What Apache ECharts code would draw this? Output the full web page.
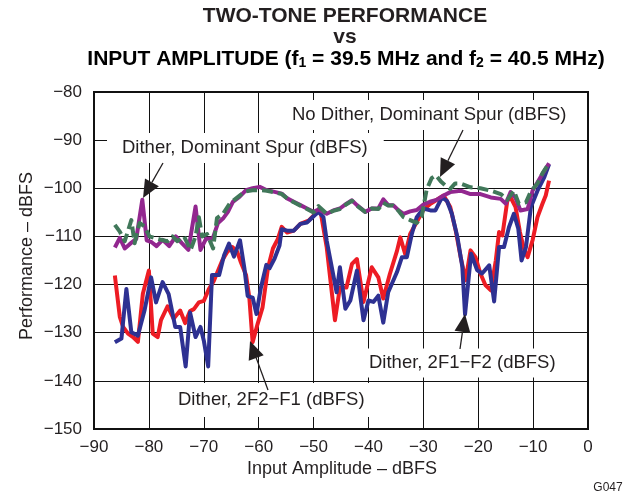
<!DOCTYPE html>
<html>
<head>
<meta charset="utf-8">
<script src="https://cdn.jsdelivr.net/npm/echarts@6/dist/echarts.min.js"></script>
<style>
html,body{margin:0;padding:0;background:#fff;}
#chart{width:629px;height:497px;}
</style>
</head>
<body>
<div id="chart"></div>
<script>
// ---- data (x = input amplitude dBFS, y = performance dBFS) ----
const xTickValues = [-90, -80, -70, -60, -50, -40, -30, -20, -10, 0];
const yTickValues = [-150, -140, -130, -120, -110, -100, -90, -80];

const ditherDominantSpur = [
  [-86.2,-112.3],[-85.3,-110.3],[-84.4,-112.5],[-83.5,-111.6],[-82.3,-110.5],[-81.2,-102.4],
  [-80.4,-110.8],[-79.5,-111.2],[-78.6,-112],[-77.5,-110.7],[-76.3,-112],[-75.1,-110],
  [-74.0,-111.4],[-72.8,-112.8],[-71.5,-103.8],[-70.6,-112.8],[-69.6,-110.5],[-68.4,-110.5],
  [-67.4,-107.2],[-66.5,-106.3],[-65.6,-104.9],[-64.7,-102.8],[-63.5,-101.8],[-62.3,-100.4],
  [-61.1,-100],[-59.8,-99.7],[-58.5,-100.4],[-57.3,-100.7],[-55.8,-101.1],[-54.8,-102.1],
  [-53.6,-102.8],[-52.4,-103.5],[-51.2,-104.2],[-50.0,-104.9],[-49.1,-104.4],[-47.6,-105.3],
  [-46.4,-104.6],[-45.2,-104.2],[-44.0,-103.2],[-43.0,-102.5],[-42.1,-103.5],[-40.6,-104.9],
  [-39.4,-104.2],[-38.2,-104.2],[-37.3,-102.3],[-36.4,-103.5],[-35.5,-103.5],[-34.5,-104.6],
  [-33.6,-105.3],[-32.4,-104.8],[-31.2,-104.5],[-30.0,-103.4],[-28.8,-102.8],[-27.6,-102.4],
  [-26.3,-101.5],[-25.1,-100.8],[-23.2,-100.5],[-21.4,-101.2],[-19.6,-101.2],[-17.7,-101.9],
  [-15.9,-102.2],[-15.0,-103.2],[-14.1,-100.8],[-13.2,-102],[-12.3,-104.6],[-11.0,-104.3],
  [-10.1,-100.5],[-8.6,-97.6],[-7.1,-94.8]
];

const noDitherDominantSpur = [
  [-86.2,-107.6],[-85.3,-109],[-84.4,-111],[-83.2,-106.6],[-82.6,-111.4],[-81.7,-107.2],
  [-80.8,-107.9],[-79.9,-110],[-79.0,-110.3],[-77.8,-110.7],[-76.6,-111],[-75.7,-110],
  [-74.8,-111],[-73.6,-110],[-72.4,-112.8],[-71.5,-110],[-70.9,-106],[-70.3,-110],
  [-69.4,-109.5],[-68.3,-112.5],[-67.6,-106.2],[-66.5,-105.3],[-65.3,-103.2],[-64.1,-102.1],
  [-62.6,-100.7],[-61.1,-100.4],[-59.8,-100.4],[-58.5,-100.5],[-57.3,-100.8],[-55.8,-101.2],
  [-54.8,-102.1],[-53.6,-102.9],[-52.4,-103.6],[-51.2,-104.3],[-50.0,-105],[-49.1,-103.7],
  [-47.6,-105.3],[-46.4,-104.7],[-45.2,-104.3],[-44.0,-103.3],[-43.0,-102.6],[-42.1,-103.6],
  [-40.6,-104.9],[-39.4,-104.2],[-38.2,-104.3],[-37.3,-103],[-36.4,-103.6],[-35.5,-103.6],
  [-34.5,-104.7],[-33.6,-106],[-32.4,-106.6],[-31.2,-107.2],[-30.3,-105.9],[-29.4,-100.3],
  [-28.5,-97.9],[-27.7,-97.3],[-26.8,-98.6],[-26.0,-99.4],[-25.1,-100.1],[-24.2,-99],
  [-23.2,-99],[-21.4,-99.8],[-19.6,-100],[-17.7,-100.5],[-15.9,-101.2],[-14.7,-102.4],
  [-13.5,-100.5],[-12.6,-103.2],[-11.3,-102.9],[-10.4,-100.6],[-9.2,-99],[-8.3,-96.9],[-7.1,-94.8]
];

const dither2F2minusF1 = [
  [-86.2,-118.1],[-85.3,-126.7],[-84.7,-128.8],[-83.8,-130.2],[-82.9,-130.9],[-82.0,-131.9],
  [-81.1,-121.9],[-80.0,-117.1],[-79.3,-130.2],[-78.4,-130.9],[-77.8,-127.4],[-76.6,-124.5],
  [-75.5,-127.1],[-74.3,-125.4],[-73.4,-128],[-72.5,-125.5],[-71.8,-125.1],[-70.9,-123.7],
  [-70.0,-123.4],[-69.1,-121],[-68.2,-119.3],[-66.6,-114.9],[-65.7,-113.2],[-64.8,-112.2],
  [-63.9,-113.2],[-63.3,-115.2],[-62.3,-118],[-61.7,-122.7],[-61.1,-132],[-60.2,-128.2],
  [-59.3,-124.8],[-58.3,-116.5],[-57.4,-112.5],[-56.5,-110.5],[-55.8,-108],[-54.8,-109.2],
  [-53.6,-108.8],[-52.4,-107.4],[-50.9,-106.7],[-48.8,-104.3],[-47.6,-112.3],[-46.1,-127.4],
  [-45.2,-120.6],[-44.0,-120.6],[-43.0,-115.7],[-42.1,-114.7],[-40.9,-123.6],[-39.4,-116.4],
  [-38.2,-118.5],[-37.3,-122.9],[-36.1,-117.8],[-34.8,-113],[-34.2,-110.2],[-33.3,-113.7],
  [-32.4,-109.5],[-31.2,-107],[-30.0,-104.5],[-28.7,-103.2],[-26.3,-101.5],[-25.1,-103.9],
  [-24.1,-108.8],[-23.2,-114.3],[-22.3,-119.1],[-21.4,-112.9],[-20.5,-114.3],[-19.6,-117.7],
  [-18.7,-120.1],[-17.7,-121.2],[-16.8,-115],[-16.2,-109.1],[-15.6,-109.8],[-14.7,-102.6],
  [-14.1,-101.9],[-13.2,-103.9],[-12.4,-109.1],[-11.6,-112.9],[-11.0,-114.3],[-10.1,-110.8],
  [-9.2,-106],[-8.3,-103.2],[-7.7,-101.5],[-7.1,-98.4]
];

const dither2F1minusF2 = [
  [-86.2,-132],[-85.0,-131.2],[-84.1,-120.9],[-83.2,-129.9],[-82.0,-130.6],[-80.8,-125.4],
  [-79.6,-118.5],[-78.7,-123.7],[-77.5,-119.5],[-76.4,-122],[-75.2,-128.8],[-74.3,-128.8],
  [-73.3,-137],[-72.5,-125.8],[-71.5,-130.9],[-70.6,-128.8],[-70.0,-131.6],[-69.2,-137],
  [-68.5,-118],[-67.2,-118],[-66.3,-113.9],[-65.4,-111.5],[-64.5,-114.2],[-63.4,-110.8],
  [-62.6,-116.6],[-62.0,-122.4],[-61.1,-122.7],[-60.4,-126.1],[-59.6,-120.7],[-58.6,-115.9],
  [-58.0,-116.6],[-57.1,-114.6],[-56.2,-111.9],[-55.8,-108.5],[-54.8,-108.8],[-53.6,-108.8],
  [-52.4,-107.4],[-51.2,-107.1],[-49.7,-105.5],[-49.1,-104.9],[-48.2,-106],[-47.6,-110.9],
  [-45.8,-121.6],[-45.2,-116.4],[-44.2,-125],[-43.3,-123.3],[-42.1,-117.1],[-40.9,-127.4],
  [-40.0,-123.3],[-39.1,-123.6],[-38.2,-122.3],[-37.3,-127.9],[-36.4,-121.6],[-34.8,-117.4],
  [-33.9,-114.3],[-33.0,-114.3],[-32.1,-109.5],[-31.2,-106],[-30.0,-104.2],[-28.7,-104.6],
  [-27.8,-104.6],[-26.6,-101.9],[-25.7,-102.6],[-24.8,-105.3],[-23.8,-110.1],[-22.9,-116.3],
  [-22.4,-126.2],[-21.3,-113.6],[-20.2,-117],[-19.3,-117.7],[-18.0,-116],[-17.1,-123.5],
  [-16.2,-112.2],[-15.3,-112.2],[-14.4,-108.1],[-13.5,-105.3],[-12.7,-108.4],[-12.1,-115],
  [-11.3,-112.2],[-10.4,-103.9],[-9.2,-100.5],[-8.0,-97.8],[-7.1,-95]
];

const seriesNames = ['Dither, 2F2−F1 (dBFS)', 'Dither, 2F1−F2 (dBFS)', 'Dither, Dominant Spur (dBFS)', 'No Dither, Dominant Spur (dBFS)'];

// ---- styling / layout ----
const FONT = '"Liberation Sans", Arial, Helvetica, sans-serif';
const INK = '#231f20';
const minus = v => String(v).replace('-', '\u2212');

function arrow(tail, tip, len, half) {
  const dx = tip[0] - tail[0], dy = tip[1] - tail[1];
  const L = Math.hypot(dx, dy), ux = dx / L, uy = dy / L;
  const bx = tip[0] - ux * len, by = tip[1] - uy * len;
  const px = -uy * half, py = ux * half;
  return [
    { type: 'polyline', z: 50, shape: { points: [tail, [bx, by]] }, style: { stroke: INK, lineWidth: 1.3, fill: null } },
    { type: 'polygon', z: 50, shape: { points: [tip, [bx + px, by + py], [bx - px, by - py]] }, style: { fill: INK, stroke: null } }
  ];
}

function label(text, x, y, pad) {
  return {
    type: 'text', z: 40, x: x, y: y,
    style: {
      text: text, font: '18.5px ' + FONT, fill: INK, lineHeight: 20,
      backgroundColor: '#fff', padding: pad, verticalAlign: 'middle', align: 'left'
    }
  };
}

const chart = echarts.init(document.getElementById('chart'), null, { renderer: 'canvas' });

const titleRich = {
  b: { fontFamily: FONT, fontWeight: 'bold', fontSize: 21, color: INK },
  s: { fontFamily: FONT, fontWeight: 'bold', fontSize: 14, color: INK, verticalAlign: 'bottom', padding: [9, 0, 0, 0] }
};

const option = {
  animation: false,
  backgroundColor: '#fff',
  grid: { left: 94, right: 41, top: 92, bottom: 68, show: true, borderColor: '#111', borderWidth: 2, backgroundColor: 'transparent' },
  xAxis: {
    type: 'value', min: -90, max: 0, interval: 10,
    axisLine: { show: false }, axisTick: { show: false },
    splitLine: { show: true, lineStyle: { color: '#111', width: 1 } },
    axisLabel: { margin: 10, color: INK, fontSize: 17, fontFamily: FONT, formatter: v => xTickValues.includes(v) ? minus(v) : '' }
  },
  yAxis: {
    type: 'value', min: -150, max: -80, interval: 10,
    axisLine: { show: false }, axisTick: { show: false },
    splitLine: { show: true, lineStyle: { color: '#111', width: 1 } },
    axisLabel: { margin: 12, color: INK, fontSize: 17, fontFamily: FONT, formatter: v => yTickValues.includes(v) ? minus(v) : '' }
  },
  series: [
    { name: seriesNames[0], type: 'line', data: dither2F2minusF1, showSymbol: false, z: 2,
      lineStyle: { color: '#ed1c24', width: 4, join: 'round' } },
    { name: seriesNames[1], type: 'line', data: dither2F1minusF2, showSymbol: false, z: 3,
      lineStyle: { color: '#2e3192', width: 4, join: 'round' } },
    { name: seriesNames[2], type: 'line', data: ditherDominantSpur, showSymbol: false, z: 4,
      lineStyle: { color: '#92278f', width: 4, join: 'round' } },
    { name: seriesNames[3], type: 'line', data: noDitherDominantSpur, showSymbol: false, z: 5,
      lineStyle: { color: '#41785a', width: 4, type: [11, 5], join: 'round' } }
  ],
  graphic: [
    { type: 'text', x: 345, y: 16, style: { text: 'TWO-TONE PERFORMANCE', font: 'bold 21px ' + FONT, fill: INK, align: 'center', verticalAlign: 'middle' } },
    { type: 'text', x: 345, y: 37, style: { text: 'vs', font: 'bold 21px ' + FONT, fill: INK, align: 'center', verticalAlign: 'middle' } },
    { type: 'text', x: 346, y: 59, style: {
        text: '{b|INPUT AMPLITUDE (f}{s|1}{b| = 39.5 MHz and f}{s|2}{b| = 40.5 MHz)}',
        rich: titleRich, align: 'center', verticalAlign: 'middle' } },
    { type: 'text', x: 342, y: 469, style: { text: 'Input Amplitude – dBFS', font: '18px ' + FONT, fill: INK, align: 'center', verticalAlign: 'middle' } },
    { type: 'text', x: 27, y: 256, rotation: Math.PI / 2, style: { text: 'Performance – dBFS', font: '18px ' + FONT, fill: INK, align: 'center', verticalAlign: 'middle' } },
    { type: 'text', x: 608, y: 488, style: { text: 'G047', font: '12px ' + FONT, fill: INK, align: 'center', verticalAlign: 'middle' } },
    label('No Dither, Dominant Spur (dBFS)', 278, 115, [5, 14, 5, 14]),
    label('Dither, Dominant Spur (dBFS)', 107, 148, [5, 16, 5, 15]),
    label('Dither, 2F1−F2 (dBFS)', 355, 363, [6, 14, 3, 14]),
    label('Dither, 2F2−F1 (dBFS)', 164, 400, [6, 14, 8, 14]),
    ...arrow([163, 163], [143, 198], 18, 8),
    ...arrow([463, 130], [440, 177], 18, 8),
    ...arrow([460, 349], [465, 314], 18, 8),
    ...arrow([268, 390], [250, 341], 18, 8)
  ]
};
chart.setOption(option);
</script>
</body>
</html>
